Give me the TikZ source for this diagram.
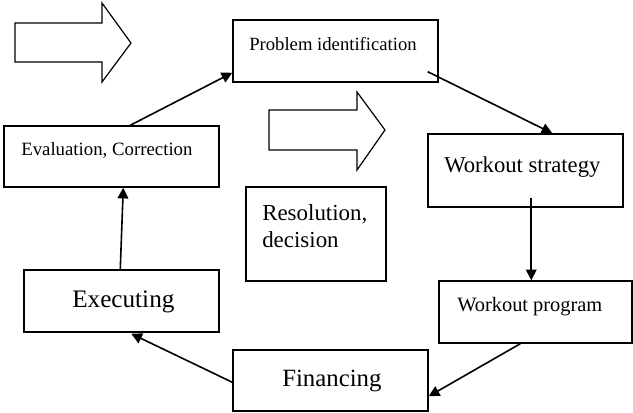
\documentclass[tikz,border=0pt]{standalone}
\usepackage{fontspec}
\setmainfont{Liberation Serif}
\usetikzlibrary{calc,arrows.meta}
\begin{document}
\begin{tikzpicture}[x=0.75pt,y=-0.75pt,
  box/.style={draw,line width=1.1pt,rectangle,inner sep=0pt},
  label/.style={anchor=base west,inner sep=0pt},
  flow/.style={line width=1.2pt,-{Triangle[length=8pt,width=8pt]}},
  blockarrow/.style={draw,line width=0.9pt,fill=white,line join=miter}]
\useasboundingbox (0,0) rectangle (633,412);

% block arrows
\draw[blockarrow] (15,23) -- (102,23) -- (102,3) -- (131,43) -- (102,82) -- (102,62) -- (15,62) -- cycle;
\draw[blockarrow] (269,110) -- (357,110) -- (357,92) -- (385,130) -- (357,170) -- (357,150) -- (269,150) -- cycle;

% boxes
\node[box,minimum width=153.75pt,minimum height=46.5pt] (prob) at (335.5,51) {};
\node[box,minimum width=161.25pt,minimum height=45.75pt] (eval) at (111.5,156.5) {};
\node[box,minimum width=146.25pt,minimum height=54.75pt] (strat) at (525.5,170.5) {};
\node[box,minimum width=105pt,minimum height=70.5pt] (resol) at (316,234) {};
\node[box,minimum width=146.25pt,minimum height=46.5pt] (exec) at (121.5,301) {};
\node[box,minimum width=146.25pt,minimum height=45.75pt] (fin) at (330.5,380.5) {};
\node[box,minimum width=144.75pt,minimum height=46.5pt] (prog) at (535.5,312) {};

% texts
\node[label,font=\fontsize{14}{16}\selectfont] (tprob) at (249,50) {Problem identification};
\node[label,font=\fontsize{14.1}{16}\selectfont] (teval) at (21,155) {Evaluation, Correction};
\node[label,font=\fontsize{17}{20}\selectfont] (tstrat) at (444,172) {Workout strategy};
\node[label,font=\fontsize{17.2}{20}\selectfont] (tresol1) at (262,220) {Resolution,};
\node[label,font=\fontsize{17.2}{20}\selectfont] (tresol2) at (262,247) {decision};
\node[label,font=\fontsize{18.9}{22}\selectfont] (texec) at (72,307) {Executing};
\node[label,font=\fontsize{18.6}{22}\selectfont] (tfin) at (282,386) {Financing};
\node[label,font=\fontsize{15.3}{18}\selectfont] (tprog) at (457,311) {Workout program};

% connectors
\draw[flow] ($(eval.north west)+(127,0)$) -- ($(prob.south west)+(0,-10)$);
\draw[flow] ($(prob.south east)+(-11,-11)$) -- ($(strat.north west)+(125,0)$);
\draw[flow] ($(strat.south west)+(104,-10)$) -- ($(prog.north west)+(93,0)$);
\draw[flow] ($(prog.south west)+(82,0)$) -- ($(fin.north east)+(0,47)$);
\draw[flow] ($(fin.north west)+(0,33)$) -- ($(exec.south west)+(108,1)$);
\draw[flow] ($(exec.north west)+(97,0)$) -- ($(eval.south west)+(120,0)$);
\end{tikzpicture}
\end{document}
